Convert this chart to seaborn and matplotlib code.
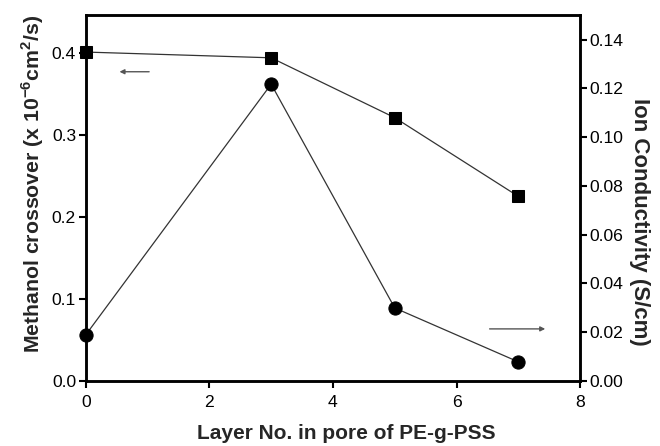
import matplotlib
matplotlib.use("Agg")
import matplotlib.pyplot as plt
import numpy as np
import pandas as pd
import seaborn as sns

# data
layers = [0, 3, 5, 7]
crossover = [0.401, 0.394, 0.321, 0.225]       # x 10^-6 cm^2/s, left axis
conductivity = [0.0189, 0.1217, 0.0299, 0.0078]  # S/cm, right axis

df = pd.DataFrame({"layer": layers, "crossover": crossover,
                   "conductivity": conductivity})

sns.set_theme(style="ticks")
plt.rcParams["font.family"] = ["Liberation Sans", "DejaVu Sans"]
plt.rcParams["mathtext.fontset"] = "custom"
plt.rcParams["mathtext.rm"] = "Liberation Sans"
plt.rcParams["mathtext.bf"] = "Liberation Sans:bold"

fig = plt.figure(figsize=(6.6, 4.46), dpi=100)
ax = fig.add_axes([0.130, 0.146, 0.749, 0.820])
ax2 = ax.twinx()

sns.lineplot(data=df, x="layer", y="crossover", ax=ax, color="#333333",
             lw=0.9, marker="s", markersize=8, markerfacecolor="black",
             markeredgecolor="black", clip_on=False)
sns.lineplot(data=df, x="layer", y="conductivity", ax=ax2, color="#333333",
             lw=0.9, marker="o", markersize=9.5, markerfacecolor="black",
             markeredgecolor="black", clip_on=False)

ax.set_xlim(0, 8)
ax.set_ylim(0, 0.446)
ax2.set_ylim(0, 0.15)
ax.set_xticks([0, 2, 4, 6, 8])
ax.set_yticks([0.0, 0.1, 0.2, 0.3, 0.4])
ax.set_yticklabels([f"{v:.1f}" for v in [0.0, 0.1, 0.2, 0.3, 0.4]])
r_ticks = np.arange(0, 0.141, 0.02)
ax2.set_yticks(r_ticks)
ax2.set_yticklabels([f"{v:.2f}" for v in r_ticks])

for a in (ax, ax2):
    for s in a.spines.values():
        s.set_linewidth(1.8)
        s.set_color("black")
    a.tick_params(direction="out", length=5, width=1.5, labelsize=12.6,
                  colors="black", pad=2)
ax.tick_params(axis="x", pad=5)

ax.set_xlabel("Layer No. in pore of PE-g-PSS", fontsize=15,
              fontweight="bold", labelpad=10)
ax.set_ylabel(r"Methanol crossover (x 10$^{\mathbf{-6}}$cm$^{\mathbf{2}}$/s)",
              fontsize=15.3, fontweight="bold", labelpad=4)
ax2.set_ylabel("Ion Conductivity (S/cm)", fontsize=16, fontweight="bold",
               rotation=270, labelpad=19)
# labels in the reference sit a little off-centre
ax.xaxis.label.set_x(0.528)
ax.yaxis.label.set_y(0.54)
ax2.yaxis.label.set_y(0.434)

# arrows pointing at the matching axis
arrow = dict(arrowstyle="-|>", color="#555555", lw=1.0, mutation_scale=7)
ax.annotate("", xy=(0.50, 0.377), xytext=(1.07, 0.377), arrowprops=arrow)
ax.annotate("", xy=(7.48, 0.0634), xytext=(6.49, 0.0634), arrowprops=arrow)

fig.savefig("out.png", dpi=100, facecolor="white")
